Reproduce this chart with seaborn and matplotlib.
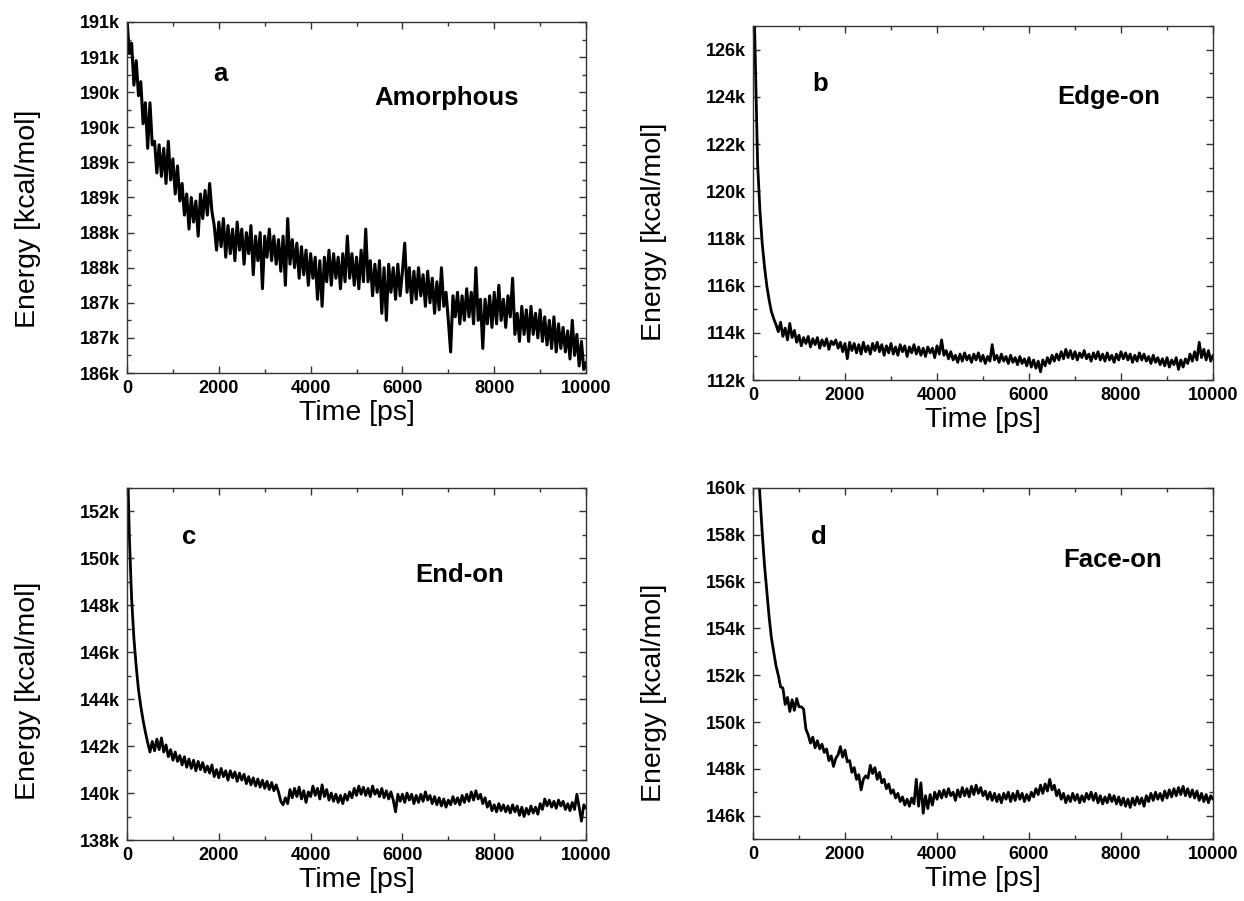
import matplotlib
matplotlib.use("Agg")
import matplotlib.pyplot as plt
import seaborn as sns
from matplotlib.ticker import MultipleLocator

sns.set_style("ticks")
plt.rcParams['font.family'] = ['Liberation Sans', 'DejaVu Sans']
plt.rcParams['text.color'] = 'black'
plt.rcParams['axes.labelcolor'] = 'black'
plt.rcParams['xtick.color'] = 'black'
plt.rcParams['ytick.color'] = 'black'

# sampling grid of the trajectories (ps)
time_ps = list(range(0, 10001, 50))

# energies in k kcal/mol
amorphous = [
    191.05, 190.55, 190.70, 190.10, 190.45, 189.95, 190.15, 189.55, 189.85, 189.20,
    189.85, 189.25, 189.30, 188.85, 189.25, 188.80, 189.20, 188.70, 189.30, 188.75,
    189.05, 188.55, 188.95, 188.45, 188.70, 188.25, 188.55, 188.05, 188.50, 188.15,
    188.45, 187.95, 188.55, 188.20, 188.60, 188.25, 188.70, 188.30, 188.10, 187.75,
    188.15, 187.80, 188.20, 187.65, 188.10, 187.70, 188.05, 187.60, 188.15, 187.75,
    188.05, 187.55, 188.00, 187.70, 188.10, 187.40, 187.95, 187.60, 188.00, 187.20,
    187.95, 187.65, 188.05, 187.60, 187.95, 187.55, 187.90, 187.45, 187.95, 187.25,
    188.20, 187.55, 187.90, 187.50, 187.85, 187.35, 187.80, 187.40, 187.75, 187.25,
    187.70, 187.35, 187.65, 187.05, 187.60, 186.95, 187.65, 187.30, 187.75, 187.25,
    187.70, 187.35, 187.65, 187.20, 187.70, 187.30, 187.95, 187.35, 187.70, 187.25,
    187.65, 187.20, 187.75, 187.30, 188.05, 187.30, 187.60, 187.10, 187.55, 187.15,
    187.60, 186.85, 187.50, 186.75, 187.55, 187.15, 187.50, 187.05, 187.55, 187.10,
    187.45, 187.85, 187.15, 187.50, 187.00, 187.45, 187.05, 187.50, 187.10, 187.40,
    186.95, 187.45, 187.00, 187.35, 186.85, 187.30, 186.90, 187.50, 186.95, 187.15,
    186.75, 186.30, 187.10, 186.80, 187.15, 186.70, 187.10, 186.75, 187.20, 186.80,
    187.15, 186.70, 187.50, 186.75, 187.05, 186.35, 187.05, 186.70, 187.10, 186.65,
    187.15, 186.70, 187.25, 186.75, 187.05, 186.65, 187.10, 186.80, 187.35, 186.55,
    186.85, 186.45, 186.95, 186.55, 186.90, 186.45, 186.95, 186.55, 186.85, 186.50,
    186.90, 186.45, 186.80, 186.40, 186.75, 186.35, 186.80, 186.30, 186.70, 186.35,
    186.65, 186.30, 186.60, 186.20, 186.75, 186.25, 186.55, 186.10, 186.45, 186.05,
    186.15,
]

edge_on = [
    130.00, 125.60, 121.20, 119.20, 117.80, 116.80, 116.00, 115.40, 114.90, 114.60,
    114.35, 114.05, 114.45, 113.85, 114.20, 113.70, 114.40, 113.80, 114.10, 113.60,
    113.90, 113.45, 113.80, 113.55, 113.85, 113.40, 113.75, 113.50, 113.80, 113.35,
    113.70, 113.45, 113.75, 113.30, 113.65, 113.50, 113.70, 113.35, 113.60, 113.20,
    113.55, 112.90, 113.60, 113.25, 113.55, 113.15, 113.50, 113.10, 113.60, 113.20,
    113.45, 113.10, 113.55, 113.25, 113.60, 113.20, 113.50, 113.05, 113.45, 113.15,
    113.55, 113.10, 113.40, 113.05, 113.50, 113.20, 113.45, 113.00, 113.40, 113.15,
    113.50, 113.10, 113.40, 113.05, 113.35, 113.00, 113.40, 113.15, 113.35, 112.95,
    113.45, 113.10, 113.70, 113.05, 113.25, 112.90, 113.20, 112.85, 113.05, 112.75,
    113.10, 112.80, 113.15, 112.85, 113.05, 112.75, 113.10, 112.85, 113.15, 112.80,
    113.05, 112.70, 113.00, 112.80, 113.50, 112.85, 113.05, 112.75, 113.10, 112.80,
    113.00, 112.70, 113.05, 112.75, 112.95, 112.65, 113.00, 112.70, 112.90, 112.60,
    112.95, 112.55, 112.85, 112.50, 112.80, 112.35, 112.85, 112.60, 112.95, 112.70,
    113.05, 112.80, 113.10, 112.85, 113.20, 112.90, 113.30, 112.95, 113.25, 112.90,
    113.20, 112.85, 113.15, 112.95, 113.25, 112.90, 113.10, 112.80, 113.15, 112.90,
    113.20, 112.85, 113.10, 112.80, 113.15, 112.85, 113.05, 112.75, 113.10, 112.85,
    113.20, 112.90, 113.15, 112.85, 113.10, 112.75, 113.05, 112.80, 113.15, 112.85,
    113.10, 112.80, 113.00, 112.70, 113.05, 112.75, 112.95, 112.65, 112.90, 112.60,
    112.95, 112.55, 112.85, 112.65, 112.95, 112.45, 112.85, 112.55, 112.90, 112.70,
    113.10, 112.80, 113.20, 112.85, 113.60, 112.95, 113.30, 112.85, 113.25, 112.80,
    113.05,
]

end_on = [
    155.00, 151.00, 148.30, 146.60, 145.40, 144.40, 143.70, 143.10, 142.60, 142.15,
    141.75, 142.20, 141.80, 142.30, 141.85, 142.35, 141.75, 142.05, 141.55, 141.85,
    141.40, 141.75, 141.35, 141.60, 141.20, 141.55, 141.10, 141.45, 141.05, 141.40,
    140.95, 141.35, 141.00, 141.30, 140.90, 141.15, 140.85, 141.20, 140.70, 141.00,
    140.65, 141.05, 140.70, 140.95, 140.55, 140.95, 140.65, 140.90, 140.50, 140.85,
    140.55, 140.80, 140.40, 140.70, 140.35, 140.65, 140.30, 140.60, 140.25, 140.55,
    140.20, 140.50, 140.15, 140.45, 140.10, 140.35, 140.05, 139.65, 139.50, 139.80,
    139.55, 140.15, 139.80, 140.20, 139.85, 140.25, 139.75, 140.10, 139.60, 140.05,
    139.85, 140.30, 139.90, 140.20, 139.75, 140.35, 139.85, 140.15, 139.70, 140.00,
    139.65, 139.95, 139.60, 139.90, 139.55, 139.95, 139.70, 140.05, 139.80, 140.20,
    139.90, 140.30, 139.95, 140.25, 139.90, 140.20, 139.85, 140.30, 139.95, 140.15,
    139.85, 140.20, 139.80, 140.10, 139.75, 140.05, 139.70, 139.20, 139.95, 139.65,
    139.95, 139.60, 140.00, 139.70, 139.95, 139.55, 139.90, 139.60, 139.95, 139.65,
    140.05, 139.70, 139.90, 139.55, 139.85, 139.50, 139.80, 139.45, 139.75, 139.40,
    139.70, 139.50, 139.85, 139.55, 139.80, 139.50, 139.90, 139.60, 139.95, 139.65,
    140.05, 139.70, 140.10, 139.75, 139.95, 139.55, 139.80, 139.40, 139.65, 139.25,
    139.50, 139.20, 139.55, 139.25, 139.50, 139.20, 139.45, 139.15, 139.50, 139.20,
    139.45, 139.05, 139.40, 139.00, 139.35, 139.10, 139.45, 139.15, 139.40, 139.10,
    139.55, 139.30, 139.75, 139.45, 139.70, 139.40, 139.65, 139.35, 139.70, 139.45,
    139.65, 139.30, 139.55, 139.25, 139.60, 139.30, 139.95, 139.40, 138.80, 139.50,
    139.35,
]

face_on = [
    166.00, 163.50, 161.50, 159.70, 158.10, 156.70, 155.60, 154.50, 153.60, 153.00,
    152.40, 152.00, 151.50, 151.45, 150.75, 151.05, 150.45, 150.95, 150.50, 151.00,
    150.65, 150.65, 150.55, 149.70, 149.45, 149.10, 149.35, 148.90, 149.20, 148.85,
    149.05, 148.70, 148.85, 148.35, 148.55, 148.10, 148.45, 148.60, 148.95, 148.50,
    148.80, 148.30, 148.35, 147.85, 148.05, 147.55, 147.75, 147.10, 147.55, 147.70,
    147.60, 148.15, 147.80, 148.05, 147.55, 147.85, 147.40, 147.55, 147.15, 147.35,
    146.95, 147.10, 146.75, 146.95, 146.60, 146.80, 146.45, 146.70, 146.40, 146.75,
    146.50, 147.55, 146.40, 147.40, 146.10, 146.85, 146.30, 146.90, 146.45, 147.00,
    146.70, 147.05, 146.75, 147.10, 146.80, 147.15, 146.85, 147.00, 146.65, 147.10,
    146.80, 147.20, 146.85, 147.15, 146.80, 147.25, 146.90, 147.30, 146.95, 147.20,
    146.85, 147.05, 146.70, 147.00, 146.65, 146.95, 146.60, 146.90, 146.55, 146.95,
    146.70, 147.00, 146.60, 146.95, 146.65, 147.05, 146.70, 146.95, 146.60, 146.90,
    146.65, 147.00, 146.80, 147.15, 146.90, 147.30, 146.95, 147.35, 147.05, 147.55,
    147.10, 147.30, 146.85, 147.10, 146.70, 146.95, 146.55, 146.85, 146.60, 146.95,
    146.65, 146.90, 146.55, 146.85, 146.60, 146.95, 146.70, 147.00, 146.65, 146.95,
    146.55, 146.85, 146.50, 146.80, 146.55, 146.90, 146.60, 146.85, 146.50, 146.80,
    146.45, 146.75, 146.40, 146.70, 146.35, 146.75, 146.45, 146.80, 146.50, 146.75,
    146.40, 146.85, 146.60, 146.95, 146.65, 147.00, 146.70, 146.95, 146.65, 147.05,
    146.75, 147.10, 146.80, 147.15, 146.85, 147.20, 146.90, 147.25, 146.85, 147.15,
    146.80, 147.10, 146.75, 147.05, 146.65, 146.95, 146.60, 146.90, 146.55, 146.85,
    146.70,
]

x_ticks = [0, 2000, 4000, 6000, 8000, 10000]
x_tick_labels = ['0', '2000', '4000', '6000', '8000', '10000']

a_yticks = [186.0, 186.5, 187.0, 187.5, 188.0, 188.5, 189.0, 189.5, 190.0, 190.5, 191.0]
a_ylabels = ['186k', '187k', '187k', '188k', '188k', '189k', '189k', '190k', '190k', '191k', '191k']
b_yticks = [112, 114, 116, 118, 120, 122, 124, 126]
b_ylabels = ['112k', '114k', '116k', '118k', '120k', '122k', '124k', '126k']
c_yticks = [138, 140, 142, 144, 146, 148, 150, 152]
c_ylabels = ['138k', '140k', '142k', '144k', '146k', '148k', '150k', '152k']
d_yticks = [146, 148, 150, 152, 154, 156, 158, 160]
d_ylabels = ['146k', '148k', '150k', '152k', '154k', '156k', '158k', '160k']

letters = ['a', 'b', 'c', 'd']
names = ['Amorphous', 'Edge-on', 'End-on', 'Face-on']

assert all(len(v) == len(time_ps) for v in (amorphous, edge_on, end_on, face_on))

panels = [
    dict(data=amorphous, rect=[0.1021, 0.5860, 0.3690, 0.3896], ylim=(186, 191),
         yt=a_yticks, yl=a_ylabels, minor=0.25, ylab_y=0.44, lw=2.2,
         letter_xy=(0.203, 0.832), name_xy=(0.697, 0.764)),
    dict(data=edge_on, rect=[0.6053, 0.5782, 0.3698, 0.3929], ylim=(112, 127),
         yt=b_yticks, yl=b_ylabels, minor=1, ylab_y=0.418, lw=2.0,
         letter_xy=(0.146, 0.817), name_xy=(0.773, 0.780)),
    dict(data=end_on, rect=[0.1021, 0.0677, 0.3690, 0.3907], ylim=(138, 153),
         yt=c_yticks, yl=c_ylabels, minor=1, ylab_y=0.423, lw=2.0,
         letter_xy=(0.135, 0.840), name_xy=(0.725, 0.733)),
    dict(data=face_on, rect=[0.6053, 0.0688, 0.3698, 0.3896], ylim=(145, 160),
         yt=d_yticks, yl=d_ylabels, minor=1, ylab_y=0.416, lw=2.0,
         letter_xy=(0.1435, 0.840), name_xy=(0.7815, 0.776)),
]

fig = plt.figure(figsize=(12.44, 9.01), dpi=100)

for p, letter, name in zip(panels, letters, names):
    ax = fig.add_axes(p['rect'])
    sns.lineplot(x=time_ps, y=p['data'], ax=ax, color='black', linewidth=p['lw'],
                 estimator=None)
    ax.set_xlim(0, 10000)
    ax.set_ylim(*p['ylim'])
    ax.set_xticks(x_ticks)
    ax.set_xticklabels(x_tick_labels)
    ax.xaxis.set_minor_locator(MultipleLocator(1000))
    ax.set_yticks(p['yt'])
    ax.set_yticklabels(p['yl'])
    ax.yaxis.set_minor_locator(MultipleLocator(p['minor']))
    ax.tick_params(which='both', direction='in', top=True, right=True,
                   color='#333333', labelcolor='black', width=1.0,
                   labelsize=13, pad=5)
    ax.tick_params(which='major', length=5)
    ax.tick_params(which='minor', length=3)
    for lbl in ax.get_xticklabels() + ax.get_yticklabels():
        lbl.set_fontweight('bold')
    for s in ax.spines.values():
        s.set_visible(True)
        s.set_linewidth(1.0)
        s.set_color('#333333')
    ax.set_xlabel('Time [ps]', fontsize=20.5, labelpad=2)
    ax.set_ylabel('Energy [kcal/mol]', fontsize=20.5)
    ax.yaxis.set_label_coords(-0.187, p['ylab_y'])
    ax.text(*p['letter_xy'], letter, transform=ax.transAxes, fontsize=18.5,
            fontweight='bold', ha='center', va='baseline')
    ax.text(*p['name_xy'], name, transform=ax.transAxes, fontsize=18.5,
            fontweight='bold', ha='center', va='baseline')

fig.savefig('out.png', dpi=100)
